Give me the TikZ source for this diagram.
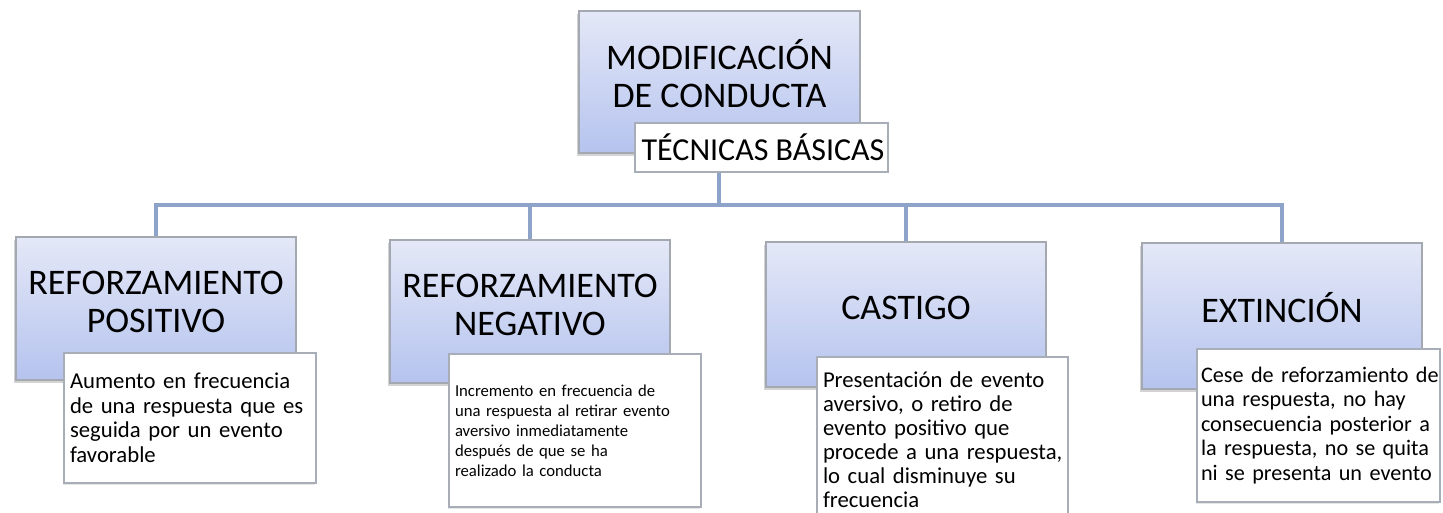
\documentclass[tikz,border=0pt]{standalone}
\usepackage{fontspec}
\setmainfont{Carlito}
\usetikzlibrary{shadows}
\definecolor{linec}{HTML}{8EA3CA}
\definecolor{topc}{HTML}{E4E8F7}
\definecolor{botc}{HTML}{B5C3EE}
\definecolor{boxborder}{HTML}{A4A8B0}
\definecolor{descborder}{HTML}{A8AEB8}
\newcommand{\oneline}[1]{\mbox{#1}}
\tikzset{
  mainbox/.style={draw=boxborder, line width=1.4pt, top color=topc, bottom color=botc,
    drop shadow={shadow xshift=-2pt, shadow yshift=-3pt, opacity=0.35, fill=gray},
    inner sep=0pt},
  titletext/.style={align=center, font=\fontsize{36}{38}\selectfont, inner sep=0pt},
  descbox/.style={draw=descborder, line width=1.2pt, fill=white, inner sep=6pt, align=left,
    execute at begin node={\hfuzz=200pt\hbadness=10000},
    drop shadow={shadow xshift=-1pt, shadow yshift=-1.5pt, opacity=0.2, fill=gray}},
  tecbox/.style={draw=descborder, line width=1.2pt, fill=white, inner sep=0pt,
    font=\fontsize{32}{34}\selectfont},
  conn/.style={draw=linec, line width=3.5pt}
}
\begin{document}
\begin{tikzpicture}[x=1pt,y=-1pt]
\useasboundingbox (0,0) rectangle (1443,512);
% top box
\node[mainbox, minimum width=281pt, minimum height=142pt] (top) at (719.5,82) {};
\node[titletext] (toptext) at ([yshift=8pt]top.center) {MODIFICACIÓN\\DE CONDUCTA};
% main boxes
\node[mainbox, minimum width=280pt, minimum height=143pt] (b1) at (156,308.5) {};
\node[mainbox, minimum width=280pt, minimum height=143pt] (b2) at (530,311.5) {};
\node[mainbox, minimum width=280pt, minimum height=145pt] (b3) at (906,314.5) {};
\node[mainbox, minimum width=280pt, minimum height=146pt] (b4) at (1282,316) {};
% connectors
\coordinate (hl) at (157,205);
\draw[conn] (b1.north) -- (b1.north |- hl) -- (b4.north |- hl) -- (b4.north);
\draw[conn] (b2.north) -- (b2.north |- hl);
\draw[conn] (b3.north) -- (b3.north |- hl);
% technique box
\node[tecbox, minimum width=253pt, minimum height=49pt] (tec) at (761.5,147.5) {\hspace*{3pt}TÉCNICAS BÁSICAS};
\draw[conn] (tec.south) ++(-42.5,0) coordinate (tecc) -- (tecc |- hl);
% titles
\node[titletext] (t1) at ([yshift=7pt]b1.center) {REFORZAMIENTO\\POSITIVO};
\node[titletext] (t2) at ([yshift=7pt]b2.center) {REFORZAMIENTO\\NEGATIVO};
\node[titletext] (t3) at ([yshift=7pt]b3.center) {CASTIGO};
\node[titletext] (t4) at ([yshift=8pt]b4.center) {EXTINCIÓN};
% descriptions
\node[descbox, minimum width=252pt, minimum height=130pt, text width=240pt,
  font=\fontsize{22.7}{24.5}\selectfont] (d1) at (190,418)
  {\oneline{Aumento en frecuencia}\\\oneline{de una respuesta que es}\\\oneline{seguida por un evento}\\\oneline{favorable}};
\node[descbox, minimum width=252pt, minimum height=153pt, text width=240pt,
  font=\fontsize{16.7}{20}\selectfont] (d2) at (575,430.5)
  {\oneline{Incremento en frecuencia de}\\\oneline{una respuesta al retirar evento}\\\oneline{aversivo inmediatamente}\\\oneline{después de que se ha}\\\oneline{realizado la conducta}};
\node[descbox, minimum width=251pt, minimum height=166pt, text width=239pt,
  font=\fontsize{22.7}{24}\selectfont] (d3) at (942.5,440)
  {\oneline{Presentación de evento}\\\oneline{aversivo, o retiro de}\\\oneline{evento positivo que}\\\oneline{procede a una respuesta,}\\\oneline{lo cual disminuye su}\\\oneline{frecuencia}};
\node[descbox, minimum width=243pt, minimum height=153pt, text width=235pt, inner sep=4pt,
  font=\fontsize{22.2}{24.5}\selectfont] (d4) at (1318.5,425.5)
  {\oneline{Cese de reforzamiento de}\\\oneline{una respuesta, no hay}\\\oneline{consecuencia posterior a}\\\oneline{la respuesta, no se quita}\\\oneline{ni se presenta un evento}};
\end{tikzpicture}
\end{document}
